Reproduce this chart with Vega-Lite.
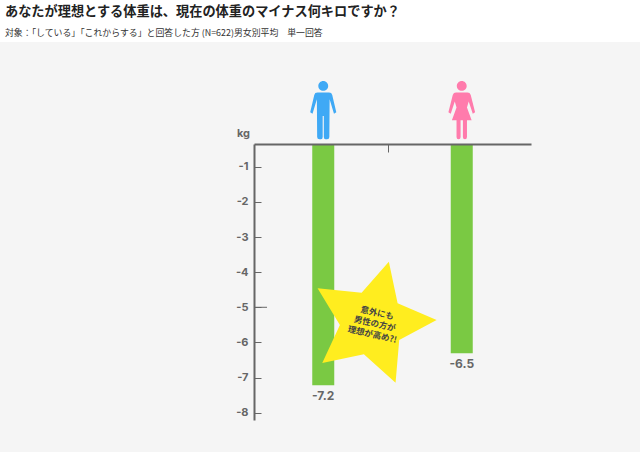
{
"$schema":"https://vega.github.io/schema/vega-lite/v6.json",
"width":277,"height":276,
"autosize":{"type":"none"},
"padding":{"left":254,"top":144,"right":109,"bottom":32},
"background":"#ffffff",
"title":{"text":"あなたが理想とする体重は、現在の体重のマイナス何キロですか？","subtitle":"対象：「している」「これからする」と回答した方 (N=622)男女別平均　単一回答","anchor":"start","frame":"group","dx":-249,"dy":1,"font":"Noto Sans CJK JP","fontSize":13.2,"fontWeight":"bold","color":"#222222","subtitleFont":"Noto Sans CJK JP","subtitleFontSize":8.9,"subtitleColor":"#333333","subtitlePadding":10},
"config":{"view":{"stroke":null}},
"datasets":{"bars":[{"gender":"男性","pos":0.5,"kg":-7.22,"label":"-7.2","top":-0.35},{"gender":"女性","pos":1.5,"kg":-6.31,"label":"-6.5","top":-0.35}]},
"encoding":{
"x":{"field":"pos","type":"quantitative","scale":{"domain":[0,2],"nice":false,"zero":false,"padding":0},
"axis":{"orient":"top","values":[0.97],"labels":false,"title":null,"grid":false,"domainColor":"#666666","domainWidth":2,"tickColor":"#666666","tickSize":-8,"tickWidth":1,"zindex":1}},
"y":{"field":"kg","type":"quantitative","scale":{"domain":[-8.21,-0.35],"nice":false,"zero":false,"padding":0},
"axis":{"values":[-1,-2,-3,-4,-5,-6,-7,-8],"labelExpr":"'-' + abs(datum.value)","grid":false,"domainColor":"#666666","domainWidth":2,"tickColor":"#666666","tickSize":-7,"tickWidth":1,"labelPadding":13,"labelColor":"#666666","labelFont":"Inter","labelFontWeight":"bold","labelFontSize":11,"title":"kg","titleAngle":0,"titleX":-11,"titleY":-6,"titleFont":"Inter","titleFontWeight":"bold","titleFontSize":11,"titleColor":"#666666","titleAlign":"center","zindex":1}}
},
"layer":[
{"data":{"values":[{"pos":-1.834,"pos2":2.787,"kg":2.556,"kg2":-9.125}]},"mark":{"type":"rect","color":"#f5f5f5"},"encoding":{"x2":{"field":"pos2"},"y2":{"field":"kg2"}}},
{"data":{"name":"bars"},"mark":{"type":"bar","orient":"vertical","size":22,"color":"#7ac943"},"encoding":{"y2":{"field":"top"}}},
{"data":{"values":[{"pos":0,"pos2":0.094,"kg":-5}]},"mark":{"type":"rule","color":"#666666","strokeWidth":1},"encoding":{"x2":{"field":"pos2"}}},
{"data":{"name":"bars"},"mark":{"type":"text","baseline":"top","dy":6,"font":"Inter","fontWeight":"bold","fontSize":12,"color":"#666666"},"encoding":{"text":{"field":"label"}}},
{"data":{"values":[{"pos":0.5,"kg":0.61}]},"mark":{"type":"point","filled":true,"opacity":1,"color":"#3fa9f5","size":3364,"shape":"M-0.17,-0.84a0.17,0.17 0 1,0 0.34,0a0.17,0.17 0 1,0 -0.34,0ZM-0.2,-0.61L0.2,-0.61Q0.29,-0.61 0.31,-0.53L0.45,0.07L0.37,0.12L0.22,-0.38L0.21,0.92Q0.21,1 0.13,1L0.08,1Q0.02,1 0.02,0.92L0.02,0.2L-0.02,0.2L-0.02,0.92Q-0.02,1 -0.08,1L-0.13,1Q-0.21,1 -0.21,0.92L-0.22,-0.38L-0.37,0.12L-0.45,0.07L-0.31,-0.53Q-0.29,-0.61 -0.2,-0.61Z"}},
{"data":{"values":[{"pos":1.5,"kg":0.61}]},"mark":{"type":"point","filled":true,"opacity":1,"color":"#ff7bac","size":3364,"shape":"M-0.17,-0.84a0.17,0.17 0 1,0 0.34,0a0.17,0.17 0 1,0 -0.34,0ZM-0.2,-0.61L0.2,-0.61Q0.28,-0.61 0.31,-0.53L0.46,0.07L0.38,0.12L0.24,-0.3L0.18,-0.1L0.34,0.34L0.18,0.34L0.18,0.92Q0.18,1 0.11,1Q0.04,1 0.04,0.92L0.04,0.34L-0.04,0.34L-0.04,0.92Q-0.04,1 -0.11,1Q-0.18,1 -0.18,0.92L-0.18,0.34L-0.34,0.34L-0.18,-0.1L-0.24,-0.3L-0.38,0.12L-0.46,0.07L-0.31,-0.53Q-0.28,-0.61 -0.2,-0.61Z"}},
{"data":{"values":[{"pos":0.861,"kg":-5.41}]},"mark":{"type":"point","filled":true,"opacity":1,"color":"#ffed1f","size":14400,"shape":"M0.26,-1L0.406,-0.306L1.056,-0.028L0.433,0.306L0.372,1.017L-0.156,0.544L-0.85,0.689L-0.556,0.056L-0.928,-0.556L-0.194,-0.483Z"}},
{"data":{"values":[{"pos":0.89,"kg":-5.16,"note":"意外にも\n男性の方が\n理想が高め?!"}]},"mark":{"type":"text","angle":13,"lineBreak":"\n","lineHeight":11,"font":"Noto Sans CJK JP","fontWeight":"bold","fontSize":8.5,"color":"#444444"},"encoding":{"text":{"field":"note"}}}
]
}
